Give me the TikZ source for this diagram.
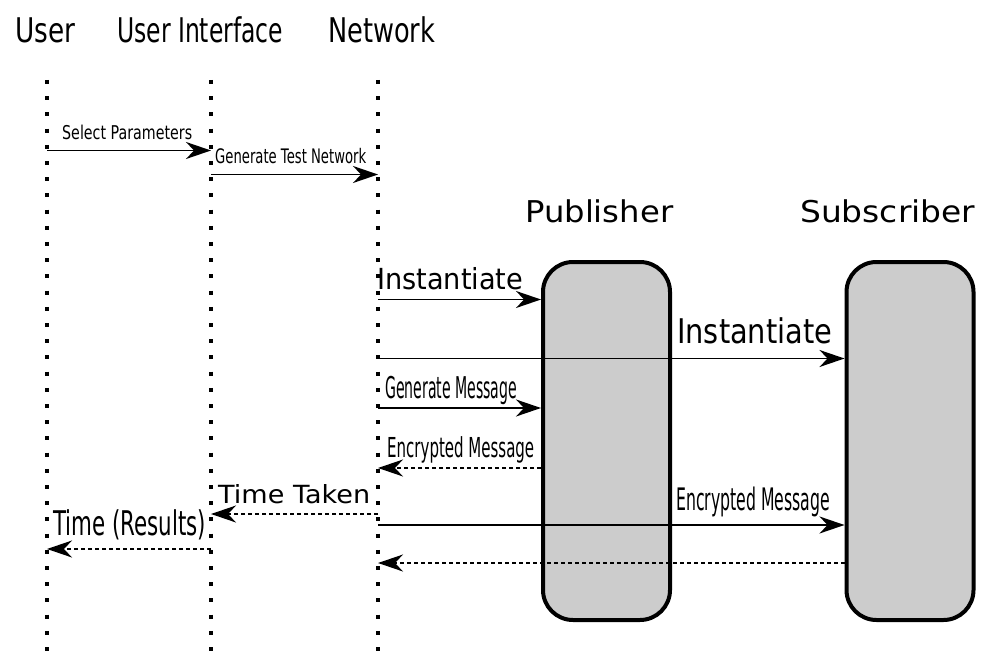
\documentclass[tikz,border=0pt]{standalone}
\usepackage{fontspec}
\setmainfont{DejaVu Sans}
\usepackage{graphicx}
\usetikzlibrary{arrows.meta}
\newcommand{\fitw}[2]{\resizebox{#1}{\height}{#2}}
\newcommand{\fs}[1]{\fontsize{#1}{#1}\selectfont}
\tikzset{
  >={Stealth[length=25pt,width=17pt,inset=8pt]},
  lifeline/.style={line width=4pt,dash pattern=on 4pt off 12.2pt},
  obj/.style={draw,line width=4pt,fill=black!20,rounded corners=30pt,
    minimum width=127pt,minimum height=358pt,inner sep=0pt},
  hdr/.style={anchor=base west,inner sep=0pt},
  lbl/.style={anchor=base west,inner sep=0pt},
  call/.style={->,line width=1.8pt},
  reply/.style={->,line width=1.5pt,dash pattern=on 4pt off 3pt},
}

\begin{document}
\begin{tikzpicture}[x=1pt,y=-1pt]
  \useasboundingbox (0,0) rectangle (984,652);
  % actors
  \node[hdr,font=\fs{34}] (huser) at (15,43) {\fitw{60pt}{User}};
  \node[hdr,font=\fs{34}] (hui) at (117,43) {\fitw{166pt}{User Interface}};
  \node[hdr,font=\fs{34}] (hnet) at (328,43) {\fitw{107pt}{Network}};
  \coordinate (user) at (47,80);  \coordinate (userEnd) at (47,652);
  \coordinate (ui) at (211,80);   \coordinate (uiEnd) at (211,652);
  \coordinate (net) at (378,80);  \coordinate (netEnd) at (378,652);
  \draw[lifeline] (user) -- (userEnd);
  \draw[lifeline] (ui) -- (uiEnd);
  \draw[lifeline] (net) -- (netEnd);
  % objects
  \node[hdr,font=\fs{30}] (hpub) at (525,223) {\fitw{148pt}{Publisher}};
  \node[hdr,font=\fs{30}] (hsub) at (800,223) {\fitw{175pt}{Subscriber}};
  \node[obj] (pub) at (606.5,441) {};
  \node[obj] (sub) at (910,441) {};
  % message rows
  \coordinate (r1) at (0,150.5);
  \coordinate (r2) at (0,174.5);
  \coordinate (r3) at (0,299.5);
  \coordinate (r4) at (0,358.5);
  \coordinate (r5) at (0,408);
  \coordinate (r6) at (0,468);
  \coordinate (r7) at (0,514);
  \coordinate (r8) at (0,525);
  \coordinate (r9) at (0,549);
  \coordinate (r10) at (0,563);
  \draw[call] (user |- r1) -- (ui |- r1);
  \draw[call] (ui |- r2) -- (net |- r2);
  \draw[call] (net |- r3) -- (pub.west |- r3);
  \draw[call] (net |- r4) -- (sub.west |- r4);
  \draw[call] (net |- r5) -- (pub.west |- r5);
  \draw[reply] (pub.west |- r6) -- (net |- r6);
  \draw[reply] (net |- r7) -- (ui |- r7);
  \draw[call] (net |- r8) -- (sub.west |- r8);
  \draw[reply] (ui |- r9) -- (user |- r9);
  \draw[reply] (sub.west |- r10) -- (net |- r10);
  % labels
  \node[lbl,font=\fs{19}] (tsel) at (62,139.5) {\fitw{130pt}{Select Parameters}};
  \node[lbl,font=\fs{20}] (tgen) at (215,163.5) {\fitw{151pt}{Generate Test Network}};
  \node[lbl,font=\fs{29}] (tinst) at (377,289) {\fitw{146pt}{Instantiate}};
  \node[lbl,font=\fs{34}] (tinst2) at (677,343) {\fitw{155pt}{Instantiate}};
  \node[lbl,font=\fs{30}] (tmsg) at (385,398.5) {\fitw{132pt}{Generate Message}};
  \node[lbl,font=\fs{27.5}] (tenc) at (387,457) {\fitw{147pt}{Encrypted Message}};
  \node[lbl,font=\fs{25}] (ttime) at (218,503.5) {\fitw{152pt}{Time Taken}};
  \node[lbl,font=\fs{31}] (tenc2) at (676,510) {\fitw{154pt}{Encrypted Message}};
  \node[lbl,font=\fs{34}] (tres) at (53,535) {\fitw{153pt}{Time (Results)}};
\end{tikzpicture}
\end{document}
